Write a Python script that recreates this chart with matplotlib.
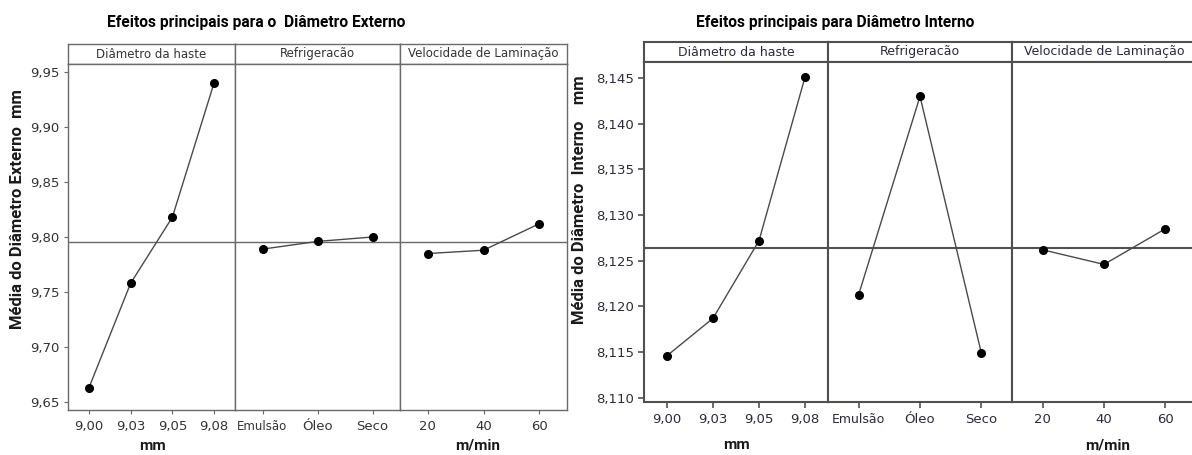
import matplotlib
matplotlib.use("Agg")
import matplotlib.pyplot as plt
import numpy as np

W, H = 1192, 455

# ---------------- data ----------------
factors = ["Diâmetro da haste", "Refrigeracão", "Velocidade de Laminação"]
haste_levels = ["9,00", "9,03", "9,05", "9,08"]
refrig_levels = ["Emulsão", "Óleo", "Seco"]
veloc_levels = ["20", "40", "60"]

ext_haste = [9.663, 9.758, 9.818, 9.940]
ext_refrig = [9.789, 9.796, 9.800]
ext_veloc = [9.785, 9.788, 9.812]
ext_mean = 9.7958
ext_yticks = [9.65, 9.70, 9.75, 9.80, 9.85, 9.90, 9.95]

int_haste = [8.1146, 8.1187, 8.1272, 8.1451]
int_refrig = [8.1213, 8.1430, 8.1149]
int_veloc = [8.1262, 8.1246, 8.1285]
int_mean = 8.1264
int_yticks = [8.110, 8.115, 8.120, 8.125, 8.130, 8.135, 8.140, 8.145]

LINE = "#4a4a4a"

fig = plt.figure(figsize=(W / 100, H / 100), dpi=100)
fig.patch.set_facecolor("white")


def px_axes(x0, y0, x1, y1):
    return fig.add_axes([x0 / W, 1 - y1 / H, (x1 - x0) / W, (y1 - y0) / H])


def build(xedges, ytop_strip, ytop, ybot, series, levels, mean, yticks, ylim,
          decimals, tick_fs, strip_fs, emul_fs, frame, frame_lw, txt, ticklen):
    for i in range(3):
        x0, x1 = xedges[i], xedges[i + 1]
        # strip
        sa = px_axes(x0, ytop_strip, x1, ytop)
        sa.set_xticks([]); sa.set_yticks([])
        for s in sa.spines.values():
            s.set_color(frame); s.set_linewidth(frame_lw)
        sa.text(0.5, 0.5, factors[i], ha="center", va="center",
                fontsize=strip_fs, color=txt, transform=sa.transAxes)
        # panel
        ax = px_axes(x0, ytop, x1, ybot)
        vals = series[i]
        xs = np.arange(len(vals))
        ax.axhline(mean, color=frame, lw=frame_lw, zorder=1)
        ax.plot(xs, vals, color=LINE, lw=1.0, marker="o", ms=5.5,
                mfc="black", mec="black", zorder=3)
        ax.set_xlim(-0.5, len(vals) - 0.5)
        ax.set_ylim(*ylim)
        for s in ax.spines.values():
            s.set_color(frame); s.set_linewidth(frame_lw)
        ax.set_xticks(xs)
        ax.set_xticklabels(levels[i])
        ax.tick_params(axis="x", direction="out", length=ticklen, width=frame_lw * 0.8,
                       color=frame, labelsize=tick_fs, labelcolor=txt, pad=4)
        if i == 1:
            for lab in ax.get_xticklabels():
                if lab.get_text() == "Emulsão":
                    lab.set_fontsize(emul_fs)
        if i == 0:
            ax.set_yticks(yticks)
            ax.set_yticklabels([f"{v:.{decimals}f}".replace(".", ",") for v in yticks])
            ax.tick_params(axis="y", direction="out", length=ticklen, width=frame_lw * 0.8,
                           color=frame, labelsize=tick_fs, labelcolor=txt, pad=3)
        else:
            ax.set_yticks([])


# left chart
build([68, 235, 400, 567], 44, 64, 410,
      [ext_haste, ext_refrig, ext_veloc],
      [haste_levels, refrig_levels, veloc_levels],
      ext_mean, ext_yticks, (9.643, 9.957), 2, 9.5, 8.5, 8.5,
      "#6a6a6a", 1.0, "#333333", 3)

# right chart
build([644, 828, 1012, 1196], 42.3, 61.7, 402.3,
      [int_haste, int_refrig, int_veloc],
      [haste_levels, refrig_levels, veloc_levels],
      int_mean, int_yticks, (8.1095, 8.1468), 3, 9.5, 9, 9,
      "#505050", 1.5, "#2a2a3a", 4)


def ftext(x, y, s, **kw):
    fig.text(x / W, 1 - y / H, s, **kw)


ftext(256, 22, "Efeitos principais para o  Diâmetro Externo", ha="center",
      va="center", fontsize=11.2, fontweight="bold", family="Roboto", color="#000000")
ftext(835, 22, "Efeitos principais para Diâmetro Interno", ha="center",
      va="center", fontsize=11.2, fontweight="bold", family="Roboto", color="#000000")

ftext(18, 209, "Média do Diâmetro Externo  mm", rotation=90, ha="center",
      va="center", fontsize=12, fontweight="bold", family="Roboto", color="#1a1a1a")
ftext(580, 200, "Média do Diâmetro  Interno    mm", rotation=90, ha="center",
      va="center", fontsize=12, fontweight="bold", family="Roboto", color="#1a1a1a")

ftext(152, 446, "mm", ha="center", va="center", fontsize=11,
      fontweight="bold", family="Roboto", color="#1a1a1a")
ftext(478, 446, "m/min", ha="center", va="center", fontsize=11,
      fontweight="bold", family="Roboto", color="#1a1a1a")
ftext(737, 445, "mm", ha="center", va="center", fontsize=11,
      fontweight="bold", family="Roboto", color="#1a1a1a")
ftext(1108, 445, "m/min", ha="center", va="center", fontsize=11,
      fontweight="bold", family="Roboto", color="#1a1a1a")

fig.savefig("out.png", dpi=100)
